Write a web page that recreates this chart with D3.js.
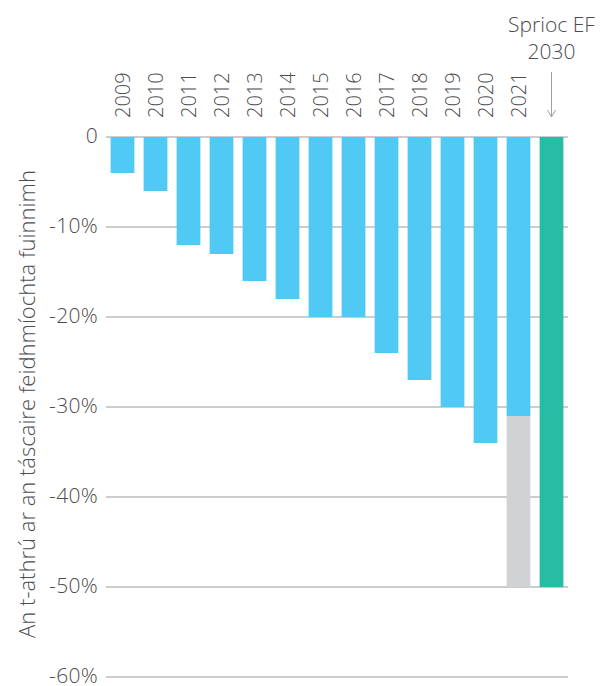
<!DOCTYPE html>
<html lang="ga">
<head>
<meta charset="UTF-8">
<title>An t-athrú ar an táscaire feidhmíochta fuinnimh</title>
<script src="https://d3js.org/d3.v7.min.js"></script>
<style>
  body { margin: 0; background: #fff; }
  text { font-family: "Open Sans", sans-serif; font-weight: 300; fill: #4d4d4f; }
</style>
</head>
<body>
<svg id="chart" width="600" height="686"></svg>
<script>
// Sonraí
const years = ["2009", "2010", "2011", "2012", "2013", "2014", "2015", "2016",
               "2017", "2018", "2019", "2020", "2021", "2030"];
const change = [-4, -6, -12, -13, -16, -18, -20, -20, -24, -27, -30, -34, -31, -50];
const gap2021 = [-31, -50];          // an bhearna idir 2021 agus an sprioc
const targetYear = "2030";
const targetLabel = ["Sprioc EF", "2030"];
const yTicks = [0, -10, -20, -30, -40, -50, -60];

const svg = d3.select("#chart");

const x = d3.scaleBand()
    .domain(years)
    .range([106, 568])
    .paddingInner(0.28)
    .paddingOuter(0.14);

const y = d3.scaleLinear()
    .domain([0, -60])
    .range([137, 677]);

// Línte greille
svg.append("g")
  .selectAll("line")
  .data(yTicks)
  .join("line")
    .attr("x1", 106)
    .attr("x2", 568)
    .attr("y1", d => y(d))
    .attr("y2", d => y(d))
    .attr("stroke", "#bcbdc0")
    .attr("stroke-width", 1.5);

// Lipéid ais Y
svg.append("g")
  .selectAll("text")
  .data(yTicks)
  .join("text")
    .attr("x", 98)
    .attr("y", d => y(d))
    .attr("dy", "0.3em")
    .attr("text-anchor", "end")
    .attr("font-size", 21)
    .attr("letter-spacing", 0.3)
    .text(d => d === 0 ? "0" : d + "%");

// Barraí
const data = years.map((yr, i) => ({ year: yr, value: change[i] }));

svg.append("g")
  .selectAll("rect")
  .data(data)
  .join("rect")
    .attr("x", d => x(d.year))
    .attr("width", x.bandwidth())
    .attr("y", y(0))
    .attr("height", d => y(d.value) - y(0))
    .attr("fill", d => d.year === targetYear ? "#26bda4" : "#50c9f5");

// Bearna liath 2021
svg.append("rect")
    .attr("x", x("2021"))
    .attr("width", x.bandwidth())
    .attr("y", y(gap2021[0]))
    .attr("height", y(gap2021[1]) - y(gap2021[0]))
    .attr("fill", "#d1d2d4");

// Lipéid na mblianta
svg.append("g")
  .selectAll("text")
  .data(years.filter(d => d !== targetYear))
  .join("text")
    .attr("transform", d => `translate(${x(d) + x.bandwidth() / 2},118) rotate(-90)`)
    .attr("dy", "0.36em")
    .attr("font-size", 20)
    .text(d => d);

// Sprioc
const cx = x(targetYear) + x.bandwidth() / 2;
svg.append("g")
  .selectAll("text")
  .data(targetLabel)
  .join("text")
    .attr("x", cx)
    .attr("y", (d, i) => 32 + i * 27)
    .attr("text-anchor", "middle")
    .attr("font-size", 21)
    .text(d => d);

svg.append("line")
    .attr("x1", cx).attr("x2", cx)
    .attr("y1", 72).attr("y2", 117)
    .attr("stroke", "#9d9fa2")
    .attr("stroke-width", 1);
svg.append("path")
    .attr("d", `M${cx - 4},${110} L${cx},${117} L${cx + 4},${110}`)
    .attr("fill", "none")
    .attr("stroke", "#9d9fa2")
    .attr("stroke-width", 1);

// Teideal ais Y
svg.append("text")
    .attr("transform", "translate(27,404) rotate(-90)")
    .attr("dy", "0.36em")
    .attr("text-anchor", "middle")
    .attr("font-size", 22)
    .text("An t-athrú ar an táscaire feidhmíochta fuinnimh");
</script>
</body>
</html>
